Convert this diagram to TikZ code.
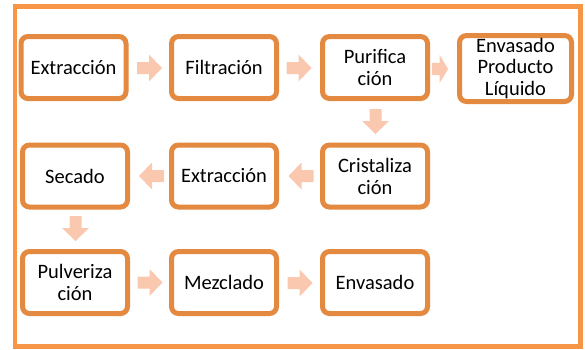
\documentclass[tikz,border=0pt]{standalone}
\usepackage{fontspec}
\setmainfont{Carlito}
\definecolor{boxline}{RGB}{228,137,64}
\definecolor{frameline}{RGB}{247,150,70}
\definecolor{arrowfill}{RGB}{250,200,175}
\begin{document}
\begin{tikzpicture}[x=1pt,y=-1pt,
  stepbox/.style={draw=boxline, line width=5pt, rounded corners=7pt, fill=white,
    minimum width=105pt, minimum height=62pt, inner sep=1pt, align=center,
    font=\fontsize{20.5pt}{22pt}\selectfont},
  blockarrow/.pic={\fill[arrowfill] (-12.5,-6) -- (-0.5,-6) -- (-0.5,-13.5) -- (12.5,0) -- (-0.5,13.5) -- (-0.5,6) -- (-12.5,6) -- cycle;}
]
\useasboundingbox (0,0) rectangle (585,349);
\draw[frameline, line width=4.5pt] (15,6.5) rectangle (580.5,346.5);

\node[stepbox] (b1) at (73.5,67.5) {Extracción};
\node[stepbox] (b2) at (224,67.5) {Filtración};
\node[stepbox] (b3) at (375,67.5) {Purifica\\ción};
\node[stepbox, minimum width=112pt, minimum height=66pt, font=\fontsize{20.5pt}{21.5pt}\selectfont] (b4) at (515.5,68.5) {Envasado\\Producto\\Líquido};

\node[stepbox] (c3) at (375,176) {Cristaliza\\ción};
\node[stepbox] (c2) at (224,176) {Extracción};
\node[stepbox] (c1) at (75,176) {Secado};

\node[stepbox] (d1) at (75,282.5) {Pulveriza\\ción};
\node[stepbox] (d2) at (224,282.5) {Mezclado};
\node[stepbox] (d3) at (375,282.5) {Envasado};

\pic at (149.5,68) {blockarrow};
\pic at (299,68) {blockarrow};
\pic[xscale=0.65,yscale=1.03] at (440,69) {blockarrow};
\pic[rotate=-90] at (375.5,121.5) {blockarrow};
\pic[rotate=180] at (301,176) {blockarrow};
\pic[rotate=180] at (151.5,176) {blockarrow};
\pic[rotate=-90] at (75.5,228.5) {blockarrow};
\pic at (150,282.5) {blockarrow};
\pic at (300,283) {blockarrow};
\end{tikzpicture}
\end{document}
